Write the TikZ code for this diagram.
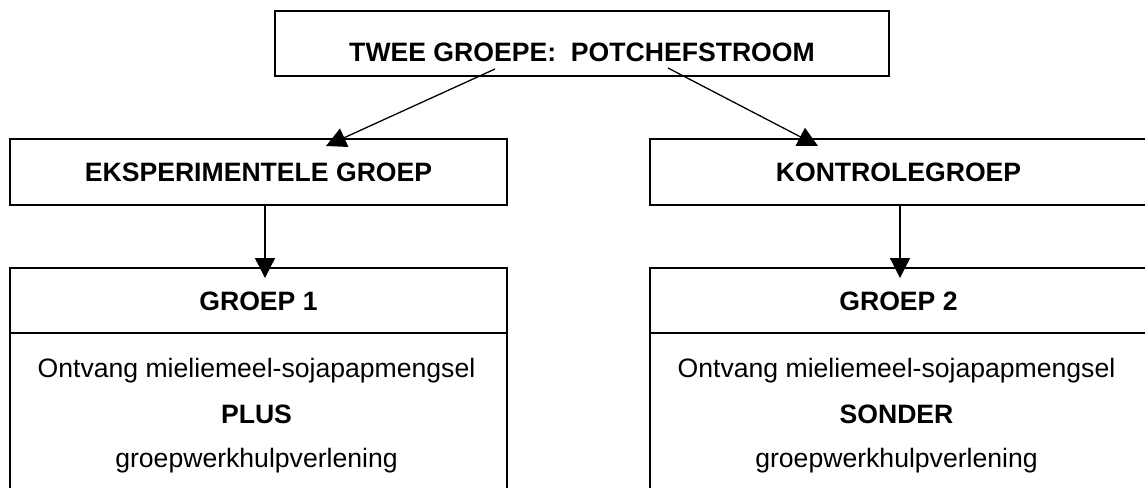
\documentclass[tikz,border=0pt]{standalone}
\usepackage{fontspec}
\setmainfont{Liberation Sans}
\usetikzlibrary{arrows.meta}
\begin{document}
\begin{tikzpicture}[x=1pt,y=-1pt,
  box/.style={draw=black, line width=1.3pt, inner sep=0pt, text height=19pt, text depth=0pt,
              font=\fontsize{26.6}{30}\selectfont\bfseries},
  txt/.style={inner sep=0pt, anchor=base, font=\fontsize{26.6}{30}\selectfont},
  btxt/.style={inner sep=0pt, anchor=base, font=\fontsize{26.6}{30}\selectfont\bfseries},
  arr/.style={line width=1.3pt, -{Triangle[length=20pt,width=20pt]}}]
\useasboundingbox (0,0) rectangle (1145,487);
\fill[white] (0,0) rectangle (1145,487);
\clip (0,0) rectangle (1145,487);

% boxes
\node[box, minimum width=614pt, minimum height=65pt, text height=37pt] (top) at (582,43.5) {TWEE GROEPE:\ \ POTCHEFSTROOM};
\node[box, minimum width=497pt, minimum height=66pt] (eksp) at (258.5,172) {EKSPERIMENTELE GROEP};
\node[box, minimum width=497pt, minimum height=66pt] (kontr) at (898.5,172) {KONTROLEGROEP};
\node[box, minimum width=497pt, minimum height=65pt] (g1) at (258.5,300.5) {GROEP 1};
\node[box, minimum width=497pt, minimum height=65pt] (g2) at (898.5,300.5) {GROEP 2};
\node[box, minimum width=497pt, minimum height=190pt] (b1) at (258.5,428) {};
\node[box, minimum width=497pt, minimum height=190pt] (b2) at (898.5,428) {};

% body texts
\node[txt]  (o1) at (256.5,377) {Ontvang mieliemeel-sojapapmengsel};
\node[btxt] (p1) at (256.5,423) {PLUS};
\node[txt]  (w1) at (256.5,467) {groepwerkhulpverlening};
\node[txt]  (o2) at (896.5,377) {Ontvang mieliemeel-sojapapmengsel};
\node[btxt] (p2) at (896.5,423) {SONDER};
\node[txt]  (w2) at (896.5,467) {groepwerkhulpverlening};

% connectors
\coordinate (s1) at (495,69);
\coordinate (e1) at (326,146);
\coordinate (s2) at (668,68);
\coordinate (e2) at (818,146);
\coordinate (e3) at (265,278);
\coordinate (e4) at (900,278);
\draw[arr] (s1) -- (e1);
\draw[arr] (s2) -- (e2);
\draw[arr] (eksp.south -| e3) -- (e3);
\draw[arr] (kontr.south -| e4) -- (e4);
\end{tikzpicture}
\end{document}
